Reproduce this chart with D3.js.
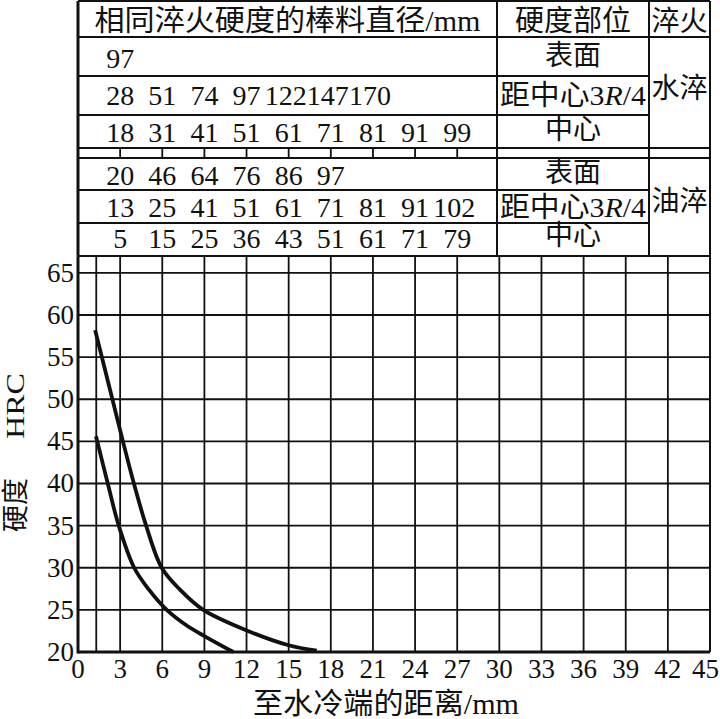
<!doctype html>
<html>
<head>
<meta charset="utf-8">
<style>
  body { margin: 0; background: #fff; }
  svg { display: block; background: #fff; }
  text { font-family: "Liberation Serif", "Times New Roman", "Noto Sans CJK SC", serif; fill: #111; }
  .grid { stroke: #111; stroke-width: 1.8; }
  .frame { stroke: #111; stroke-width: 2; }
  .axisline { stroke: #111; stroke-width: 3; }
  .curve { fill: none; stroke: #111; stroke-width: 3.8; stroke-linecap: butt; }
</style>
<script src="https://d3js.org/d3.v7.min.js"></script>
</head>
<body>
<svg id="chart" width="720" height="719"></svg>
<script>
// ---- data ----
var xTickValues = [0, 3, 6, 9, 12, 15, 18, 21, 24, 27, 30, 33, 36, 39, 42, 45];
var yTickValues = [20, 25, 30, 35, 40, 45, 50, 55, 60, 65];
var xGridValues = [1.3, 3, 6, 9, 12, 15, 18, 21, 24, 27, 30, 33, 36, 39, 42];

// distance (mm) that each bar diameter in the table lines up with
var diaSlots = [3, 6, 9, 12, 15, 18, 21, 24, 27];

var waterSurface = [97];
var water34R = [28, 51, 74, 97, 122, 147, 170];
var waterCenter = [18, 31, 41, 51, 61, 71, 81, 91, 99];
var oilSurface = [20, 46, 64, 76, 86, 97];
var oil34R = [13, 25, 41, 51, 61, 71, 81, 91, 102];
var oilCenter = [5, 15, 25, 36, 43, 51, 61, 71, 79];

// upper and lower hardenability curves
var upperDist = [1.22, 2.45, 3.2, 3.98, 4.85, 5.96, 7.26, 8.92, 12.1, 15, 17];
var upperHRC  = [58.2, 50, 45, 40, 35, 30, 27.4, 25, 22.5, 20.8, 20.15];
var lowerDist = [1.28, 2.12, 2.9, 4.0, 5.05, 6.32, 7.69, 9.09, 11.06];
var lowerHRC  = [45.6, 40, 35, 30, 27.4, 25, 23.2, 21.8, 20];

var svg = d3.select("#chart");

var x = d3.scaleLinear().domain([0, 45]).range([78, 710]);
var y = d3.scaleLinear().domain([20, 67]).range([652, 256]);

// ---- plot grid ----
svg.selectAll(".vgrid")
   .data(xGridValues)
   .enter().append("line")
   .attr("class", "grid")
   .attr("x1", function(d) { return x(d); })
   .attr("x2", function(d) { return x(d); })
   .attr("y1", y(20))
   .attr("y2", y(67));

svg.selectAll(".hgrid")
   .data(yTickValues.slice(1))
   .enter().append("line")
   .attr("class", "grid")
   .attr("x1", x(0))
   .attr("x2", x(45))
   .attr("y1", function(d) { return y(d); })
   .attr("y2", function(d) { return y(d); });

// ---- table ----
var tTop = 1, tBot = y(67);
var col1 = 497, col2 = 649;
var hLines = [
  [tTop, x(45)], [37, x(45)], [76, col2], [115, col2],
  [148, x(45)], [158, x(45)], [190, col2], [223, col2], [tBot, x(45)]
];
hLines.forEach(function(h) {
  svg.append("line").attr("class", "frame")
     .attr("x1", x(0)).attr("x2", h[1]).attr("y1", h[0]).attr("y2", h[0]);
});
[col1, col2].forEach(function(cx) {
  svg.append("line").attr("class", "frame")
     .attr("x1", cx).attr("x2", cx).attr("y1", tTop).attr("y2", tBot);
});
svg.append("line").attr("class", "frame")
   .attr("x1", x(45)).attr("x2", x(45)).attr("y1", tTop).attr("y2", y(20));

// small ticks in the spacer row
svg.selectAll(".sep")
   .data(diaSlots)
   .enter().append("line")
   .attr("class", "grid")
   .attr("x1", function(d) { return x(d); })
   .attr("x2", function(d) { return x(d); })
   .attr("y1", 148).attr("y2", 158);

// axes
svg.append("line").attr("class", "axisline")
   .attr("x1", x(0)).attr("x2", x(0)).attr("y1", tTop).attr("y2", y(20) + 1.5);
svg.append("line").attr("class", "axisline")
   .attr("x1", x(0)).attr("x2", x(45)).attr("y1", y(20)).attr("y2", y(20));

// header row
svg.append("text").attr("x", (x(0) + col1) / 2).attr("y", 31)
   .attr("text-anchor", "middle").attr("font-size", 29)
   .attr("textLength", 386).attr("lengthAdjust", "spacingAndGlyphs")
   .text("相同淬火硬度的棒料直径/mm");
svg.append("text").attr("x", (col1 + col2) / 2).attr("y", 31)
   .attr("text-anchor", "middle").attr("font-size", 29)
   .text("硬度部位");
svg.append("text").attr("x", (col2 + x(45)) / 2).attr("y", 31)
   .attr("text-anchor", "middle").attr("font-size", 28)
   .text("淬火");

// diameter rows
var rows = [
  { vals: waterSurface, base: 68,  part: "表面" },
  { vals: water34R,     base: 105, part: "3R" },
  { vals: waterCenter,  base: 142, part: "中心" },
  { vals: oilSurface,   base: 185, part: "表面" },
  { vals: oil34R,       base: 217, part: "3R" },
  { vals: oilCenter,    base: 248, part: "中心" }
];

rows.forEach(function(r) {
  svg.append("g").selectAll("text")
     .data(r.vals)
     .enter().append("text")
     .attr("x", function(d, i) { return x(diaSlots[i]) - (d >= 100 ? 3 : 0); })
     .attr("y", r.base)
     .attr("text-anchor", "middle")
     .attr("font-size", 28)
     .text(function(d) { return d; });

  var t = svg.append("text")
     .attr("x", (col1 + col2) / 2)
     .attr("y", r.base - 3)
     .attr("text-anchor", "middle")
     .attr("font-size", 28);
  if (r.part === "3R") {
    t.attr("y", r.base).attr("textLength", 146).attr("lengthAdjust", "spacingAndGlyphs");
    t.append("tspan").text("距中心3");
    t.append("tspan").attr("font-style", "italic").text("R");
    t.append("tspan").text("/4");
  } else {
    t.text(r.part);
  }
});

svg.append("text").attr("x", (col2 + x(45)) / 2).attr("y", 98)
   .attr("text-anchor", "middle").attr("font-size", 28).text("水淬");
svg.append("text").attr("x", (col2 + x(45)) / 2).attr("y", 211)
   .attr("text-anchor", "middle").attr("font-size", 28).text("油淬");

// ---- curves ----
var line = d3.line()
    .x(function(d) { return x(d[0]); })
    .y(function(d) { return y(d[1]); })
    .curve(d3.curveCatmullRom.alpha(0.5));

svg.append("path").attr("class", "curve")
   .attr("d", line(d3.zip(upperDist, upperHRC)));
svg.append("path").attr("class", "curve")
   .attr("d", line(d3.zip(lowerDist, lowerHRC)));

// ---- tick labels ----
svg.selectAll(".ylab")
   .data(yTickValues)
   .enter().append("text")
   .attr("x", 74)
   .attr("y", function(d) { return y(d) + 9; })
   .attr("text-anchor", "end")
   .attr("font-size", 27)
   .text(function(d) { return d; });

svg.selectAll(".xlab")
   .data(xTickValues)
   .enter().append("text")
   .attr("x", function(d, i) { return i === xTickValues.length - 1 ? 719 : x(d); })
   .attr("y", 678)
   .attr("text-anchor", function(d, i) { return i === xTickValues.length - 1 ? "end" : "middle"; })
   .attr("font-size", 27)
   .text(function(d) { return d; });

// ---- axis titles ----
svg.append("text")
   .attr("x", 386).attr("y", 714)
   .attr("text-anchor", "middle").attr("font-size", 29)
   .attr("textLength", 266).attr("lengthAdjust", "spacingAndGlyphs")
   .text("至水冷端的距离/mm");

svg.append("text")
   .attr("transform", "translate(25,505) rotate(-90)")
   .attr("text-anchor", "middle").attr("font-size", 27)
   .text("硬度");
svg.append("text")
   .attr("transform", "translate(24,406) rotate(-90)")
   .attr("text-anchor", "middle").attr("font-size", 26)
   .attr("textLength", 66).attr("lengthAdjust", "spacingAndGlyphs")
   .text("HRC");
</script>
</body>
</html>
